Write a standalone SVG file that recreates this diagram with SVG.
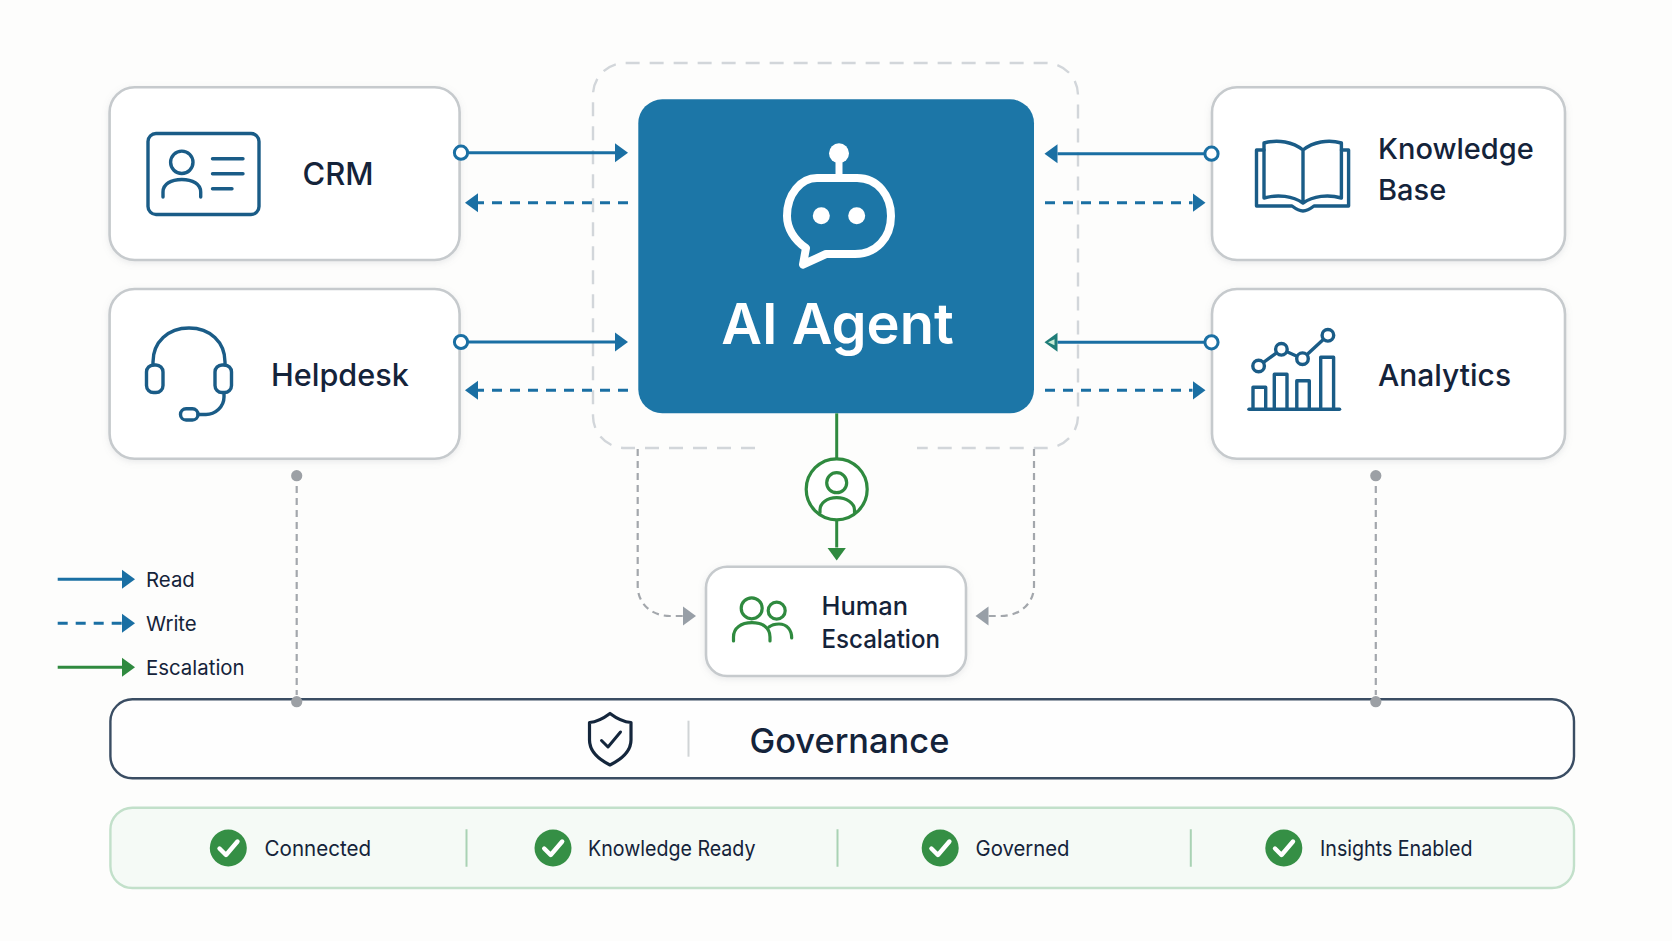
<svg xmlns="http://www.w3.org/2000/svg" width="1672" height="941" viewBox="0 0 1672 941">
<style>
text{font-family:Inter,"Noto Sans","Liberation Sans",sans-serif;fill:#14233a}
.box{fill:#fff;stroke:#c6cacd;stroke-width:2.6;filter:url(#sh)}
.lbl{font-size:30px;font-weight:500}
.leg{font-size:20.4px}
.st{font-size:21.5px}
.ic{fill:none;stroke:#1a5c87;stroke-width:3.4;stroke-linecap:round;stroke-linejoin:round}
.gic{fill:none;stroke:#2f8a3f;stroke-width:3.2;stroke-linecap:round;stroke-linejoin:round}
.read{fill:none;stroke:#1a6fa3;stroke-width:3}
.write{fill:none;stroke:#1a6fa3;stroke-width:3;stroke-dasharray:10 8}
.esc{fill:none;stroke:#2f8a3f;stroke-width:3}
.grey{fill:none;stroke:#a3a7ac;stroke-width:2.2;stroke-dasharray:7 5}
.port{fill:#fff;stroke:#1a6fa3;stroke-width:3}
.gd{fill:#9ca0a5}
.div{stroke:#a9d2b4;stroke-width:2}
.chk{fill:#358f45}
.tick{fill:none;stroke:#fff;stroke-width:4.4;stroke-linecap:round;stroke-linejoin:round}
</style>
<defs>
<filter id="sh" x="-10%" y="-10%" width="120%" height="125%"><feDropShadow dx="0" dy="2" stdDeviation="3" flood-color="#8a939a" flood-opacity="0.18"/></filter>
<marker id="ab" markerUnits="userSpaceOnUse" markerWidth="14" markerHeight="20" refX="0" refY="10" orient="auto"><path d="M0 0.5L13 10L0 19.5z" fill="#1a6fa3"/></marker>
<marker id="ag" markerUnits="userSpaceOnUse" markerWidth="14" markerHeight="20" refX="0" refY="10" orient="auto"><path d="M0 0.5L13 10L0 19.5z" fill="#2f8a3f"/></marker>
<marker id="agb" markerUnits="userSpaceOnUse" markerWidth="14" markerHeight="20" refX="0" refY="10" orient="auto"><path d="M0 0.5L13 10L0 19.5z" fill="#1f7d78"/><path d="M3 7L9.5 10L3 13z" fill="#c9ecd6"/></marker>
<marker id="agr" markerUnits="userSpaceOnUse" markerWidth="14" markerHeight="20" refX="0" refY="10" orient="auto"><path d="M0 0.5L13 10L0 19.5z" fill="#989fa7"/></marker>
</defs>
<rect width="1672" height="941" fill="#fdfdfc"/>

<path id="agent-frame" d="M755 448H625A32 32 0 0 1 593 416V95A32 32 0 0 1 625 63H1046A32 32 0 0 1 1078 95V416A32 32 0 0 1 1046 448H917" fill="none" stroke="#d2d6da" stroke-width="2.4" stroke-dasharray="14 10"/>

<g id="crm">
<rect class="box" x="109.6" y="87.3" width="350" height="172.7" rx="25"/>
<g class="ic"><rect x="148" y="133.5" width="111" height="81" rx="8"/><circle cx="181.8" cy="162.3" r="11.2"/><path d="M163 197V192C163 184 171 179.5 181.8 179.5S200.7 184 200.7 192V197"/><path d="M212.5 158.7H243M212.5 173.7H243M212.5 188.7H232"/></g>
<text class="lbl" x="302.5" y="185" font-size="31" style="font-size:31px">CRM</text>
</g>
<g id="helpdesk">
<rect class="box" x="109.6" y="289" width="350" height="169.7" rx="25"/>
<g class="ic"><path d="M153 365V362C153 342 168 328 189 328S225 342 225 362V365"/><rect x="146.5" y="365" width="16.5" height="27.5" rx="7"/><rect x="215" y="365" width="16.5" height="27.5" rx="7"/><path d="M224 393V397C224 407 215 414.5 206 414.5H198"/><rect x="180.5" y="408.7" width="17.5" height="11.3" rx="5.6"/></g>
<text class="lbl" x="271" y="385.7" style="font-size:30.6px">Helpdesk</text>
</g>
<g id="knowledge-base">
<rect class="box" x="1212" y="87.3" width="353" height="172.7" rx="25"/>
<g class="ic"><path d="M1303 150C1293 142 1278 139 1264 143V198C1278 194 1293 196 1303 203C1313 196 1328 194 1341.4 198V143C1328 139 1313 142 1303 150V203"/><path d="M1264 150H1256.5V206H1292C1296 209 1299 211 1303 211S1310 209 1314 206H1348.6V150H1341.4"/></g>
<text class="lbl" x="1378" y="158.5" style="font-size:29px">Knowledge</text>
<text class="lbl" x="1378" y="199.5" style="font-size:29px">Base</text>
</g>
<g id="analytics">
<rect class="box" x="1212" y="289" width="353" height="169.7" rx="25"/>
<g class="ic"><path d="M1249 409.3H1339.5" stroke-width="3.6"/><path d="M1253 409V387.3H1265.7V409M1274.3 409V374.3H1287V409M1296.8 409V380.7H1309.3V409M1320.7 409V357.3H1333.6V409"/><path d="M1258.6 366L1281.4 349.3L1302.5 358.7L1327.9 335.3"/><circle cx="1258.6" cy="366" r="5.8" fill="#fff"/><circle cx="1281.4" cy="349.3" r="5.8" fill="#fff"/><circle cx="1302.5" cy="358.7" r="5.8" fill="#fff"/><circle cx="1327.9" cy="335.3" r="5.8" fill="#fff"/></g>
<text class="lbl" x="1378" y="385.7">Analytics</text>
</g>

<g id="ai-agent">
<rect x="638.3" y="99.3" width="395.7" height="314" rx="24" fill="#1c76a7"/>
<g fill="none" stroke="#fff" stroke-width="8" stroke-linejoin="round">
<path d="M817 178H857C878 178 891 196 891 216C891 238 876 254 855 254H826L803 264.5L806 248C794 240 787 228 787 216C787 194 801 178 817 178Z"/>
<path d="M839 156V176" stroke-width="7"/>
</g>
<g fill="#fff"><circle cx="839" cy="153.3" r="10"/><circle cx="821.3" cy="215.7" r="8.5"/><circle cx="856.7" cy="215.7" r="8.5"/></g>
<text x="837.5" y="344.3" text-anchor="middle" font-size="56" font-weight="600" style="fill:#fff">AI Agent</text>
</g>

<g id="connectors">
<path class="read" d="M467 152.7H615" marker-end="url(#ab)"/>
<path class="write" d="M628 202.7H478" marker-end="url(#ab)"/>
<path class="read" d="M467 342H615" marker-end="url(#ab)"/>
<path class="write" d="M628 390.3H478" marker-end="url(#ab)"/>
<path class="read" d="M1205 153.7H1057.5" marker-end="url(#ab)"/>
<path class="write" d="M1045 202.7H1192.5" marker-end="url(#ab)"/>
<path class="read" d="M1205 342.3H1057.5" marker-end="url(#agb)"/>
<path class="write" d="M1045 390.3H1192.5" marker-end="url(#ab)"/>
<circle class="port" cx="461" cy="152.7" r="6.6"/>
<circle class="port" cx="461" cy="342" r="6.6"/>
<circle class="port" cx="1211.5" cy="153.7" r="6.6"/>
<circle class="port" cx="1211.5" cy="342.3" r="6.6"/>
<path class="esc" d="M836.7 413.3V458"/>
<path class="esc" d="M836.7 520V547.5" marker-end="url(#ag)"/>
<path class="grey" d="M637.7 449V586C637.7 604 652 616 670 616H683" marker-end="url(#agr)"/>
<path class="grey" d="M1034 449V586C1034 604 1019 616 1001 616H988.5" marker-end="url(#agr)"/>
<path class="grey" d="M296.7 486V695"/>
<path class="grey" d="M1375.8 486V695"/>
</g>

<g id="escalation-point">
<circle cx="836.7" cy="489.3" r="30.5" fill="#fff" stroke="#2f8a3f" stroke-width="3.2"/>
<g class="gic"><circle cx="836.7" cy="482.7" r="10"/><path d="M820 512.5V510C820 503 827 497.7 836.7 497.7S854.5 503 854.5 510V512.5"/></g>
</g>

<g id="human-escalation">
<rect class="box" x="706" y="566.7" width="260" height="109.3" rx="21"/>
<g class="gic"><circle cx="751.7" cy="608.3" r="10.5"/><circle cx="776.7" cy="610.7" r="8.5"/><path d="M733.5 641V637C733.5 628 741 622.7 752 622.7S770 628 770 637V641"/><path d="M769 627C772 624.5 775 624 779 624C787 624 791.7 630 791.7 638"/></g>
<text x="821.5" y="615" font-size="25.4" font-weight="500">Human</text>
<text x="821.5" y="647.7" font-size="25.4" font-weight="500" textLength="118.5" lengthAdjust="spacingAndGlyphs">Escalation</text>
</g>

<g id="legend">
<path class="read" d="M57.7 579.3H122" marker-end="url(#ab)"/>
<path class="write" d="M57.7 623.3H122" marker-end="url(#ab)"/>
<path class="esc" d="M57.7 667.3H122" marker-end="url(#ag)"/>
<text class="leg" x="146" y="587">Read</text>
<text class="leg" x="146" y="631">Write</text>
<text class="leg" x="146" y="675">Escalation</text>
</g>

<g id="governance">
<rect x="110.4" y="699.3" width="1463.6" height="79" rx="22" fill="#fefefe" stroke="#3a4d63" stroke-width="2.4"/>
<path d="M610 713.5C602 719.5 596 722 589.5 722.5V740C589.5 752 600 760 610 765C620 760 631 752 631 740V722.5C624 722 618 719.5 610 713.5Z" fill="none" stroke="#14263c" stroke-width="3.2" stroke-linejoin="round"/>
<path d="M601.5 740.5L608 747L620.5 732" fill="none" stroke="#14263c" stroke-width="3" stroke-linecap="round" stroke-linejoin="round"/>
<path d="M688.5 720.7V756.7" stroke="#d0d4d6" stroke-width="2"/>
<text x="749.5" y="753" font-size="34.4" font-weight="500">Governance</text>
</g>
<g id="endpoints">
<circle class="gd" cx="296.7" cy="475.7" r="5.6"/>
<circle class="gd" cx="296.7" cy="701.7" r="5.6"/>
<circle class="gd" cx="1375.8" cy="475.7" r="5.6"/>
<circle class="gd" cx="1375.8" cy="701.7" r="5.6"/>
</g>

<g id="status-bar">
<rect x="110.4" y="807.7" width="1463.6" height="80.3" rx="22" fill="#f5faf6" stroke="#c2e0ca" stroke-width="2.4"/>
<path class="div" d="M466.5 829.3V866.7M837.5 829.3V866.7M1190.8 829.3V866.7"/>
<g id="status-connected"><circle class="chk" cx="228.3" cy="848" r="18.5"/><path class="tick" d="M219.5 848.5L226 855L237.5 841.5"/><text class="st" x="264.5" y="856" textLength="106.6" lengthAdjust="spacingAndGlyphs">Connected</text></g>
<g id="status-knowledge"><circle class="chk" cx="553" cy="848" r="18.5"/><path class="tick" d="M544.2 848.5L550.7 855L562.2 841.5"/><text class="st" x="588" y="856" textLength="167.5" lengthAdjust="spacingAndGlyphs">Knowledge Ready</text></g>
<g id="status-governed"><circle class="chk" cx="940.2" cy="848" r="18.5"/><path class="tick" d="M931.4 848.5L937.9 855L949.4 841.5"/><text class="st" x="975.5" y="856" textLength="94" lengthAdjust="spacingAndGlyphs">Governed</text></g>
<g id="status-insights"><circle class="chk" cx="1283.8" cy="848" r="18.5"/><path class="tick" d="M1275 848.5L1281.5 855L1293 841.5"/><text class="st" x="1320" y="856" textLength="152.5" lengthAdjust="spacingAndGlyphs">Insights Enabled</text></g>
</g>
</svg>
